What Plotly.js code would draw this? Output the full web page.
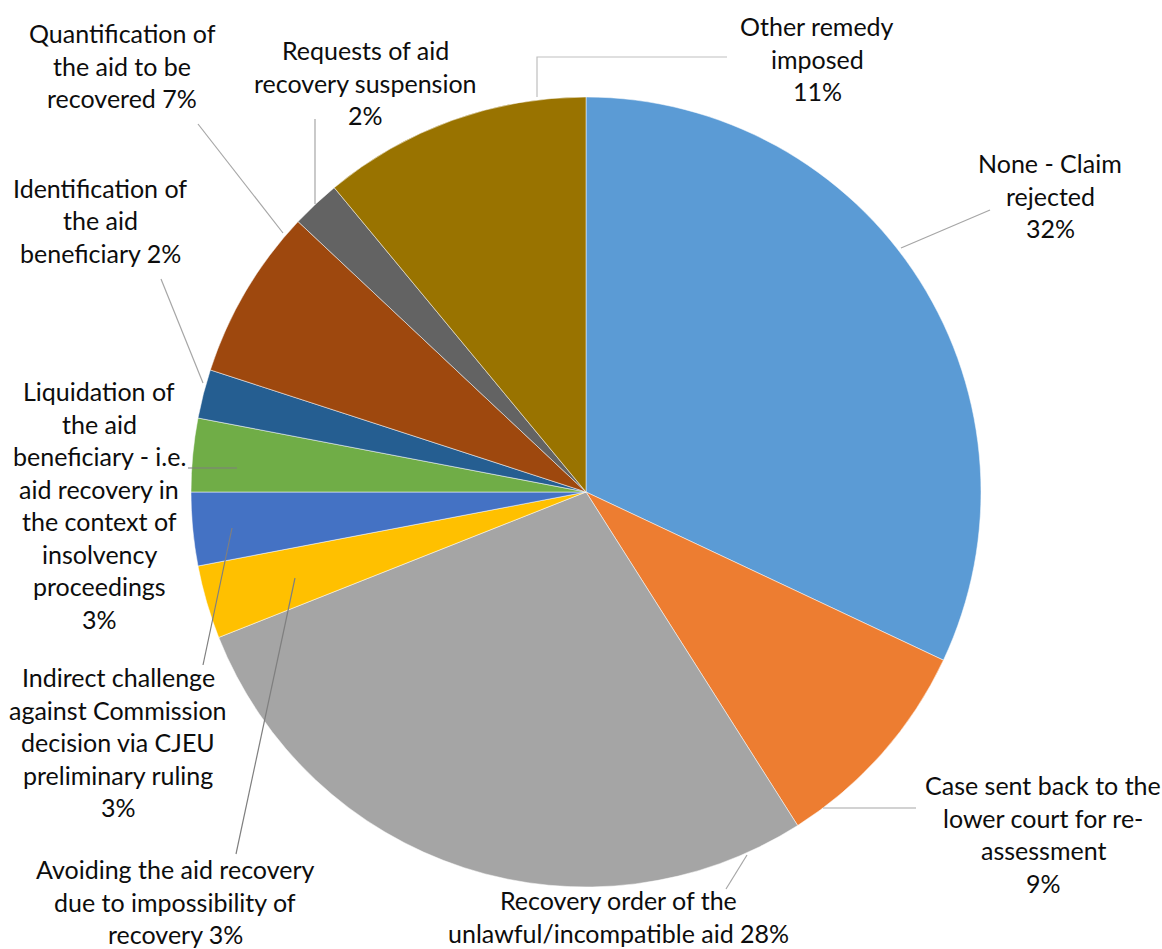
<!DOCTYPE html>
<html>
<head>
<meta charset="utf-8">
<script src="https://cdn.plot.ly/plotly-3.0.0.min.js"></script>
<style>html,body{margin:0;padding:0;background:#fff;}#chart{width:1162px;height:949px;}</style>
</head>
<body>
<div id="chart"></div>
<script>
// ---- data ----
const categories = [
  "None - Claim rejected",
  "Case sent back to the lower court for re-assessment",
  "Recovery order of the unlawful/incompatible aid",
  "Avoiding the aid recovery due to impossibility of recovery",
  "Indirect challenge against Commission decision via CJEU preliminary ruling",
  "Liquidation of the aid beneficiary - i.e. aid recovery in the context of insolvency proceedings",
  "Identification of the aid beneficiary",
  "Quantification of the aid to be recovered",
  "Requests of aid recovery suspension",
  "Other remedy imposed"
];
const shares = [32, 9, 28, 3, 3, 3, 2, 7, 2, 11];
const sliceColors = ["#5B9BD5", "#ED7D31", "#A5A5A5", "#FFC000", "#4472C4",
                     "#70AD47", "#255E91", "#9E480E", "#636363", "#997300"];

// wrapped label lines ("%" is replaced by the computed percentage)
const labelLines = [
  ["None - Claim", "rejected", "%"],
  ["Case sent back to the", "lower court for re-", "assessment", "%"],
  ["Recovery order of the", "unlawful/incompatible aid %"],
  ["Avoiding the aid recovery", "due to impossibility of", "recovery %"],
  ["Indirect challenge", "against Commission", "decision via CJEU", "preliminary ruling", "%"],
  ["Liquidation of", "the aid", "beneficiary - i.e.", "aid recovery in", "the context of", "insolvency", "proceedings", "%"],
  ["Identification of", "the aid", "beneficiary %"],
  ["Quantification of", "the aid to be", "recovered %"],
  ["Requests of aid", "recovery suspension", "%"],
  ["Other remedy", "imposed", "%"]
];

// ---- layout helpers (pixel -> paper) ----
const W = 1162, H = 949;
const px = x => x / W;
const py = y => 1 - y / H;

// label placement: [centre x, first line y] in pixels
const labelPos = [
  [1050, 163], [1043, 785], [618, 900], [175, 869], [118, 677],
  [99, 391], [100, 188], [122, 33], [365, 50], [817, 26]
];
const lineStep = 32.5;

// leader lines (pixel points)
const leaders = [
  {pts: [[901, 248], [990, 210]], c: "#A6A6A6"},
  {pts: [[823, 808], [916, 808]], c: "#A6A6A6"},
  {pts: [[747, 855], [726, 889]], c: "#A6A6A6"},
  {pts: [[295, 578], [236, 854]], c: "#7F7F7F"},
  {pts: [[232, 528], [203, 665]], c: "#7F7F7F"},
  {pts: [[188, 468], [237, 468]], c: "#7F7F7F"},
  {pts: [[161, 279], [203, 383]], c: "#A6A6A6"},
  {pts: [[198, 124], [283, 233]], c: "#A6A6A6"},
  {pts: [[315, 119], [315, 204]], c: "#A6A6A6"},
  {pts: [[537, 97], [537, 57], [727, 57]], c: "#BFBFBF"}
];

const total = shares.reduce((a, b) => a + b, 0);
const pct = shares.map(v => Math.round(v / total * 100) + "%");

const annotations = [];
labelLines.forEach((lines, i) => {
  lines.forEach((ln, j) => {
    annotations.push({
      xref: "paper", yref: "paper",
      x: px(labelPos[i][0]), y: py(labelPos[i][1] + j * lineStep),
      xanchor: "center", yanchor: "middle",
      text: ln.replace("%", pct[i]),
      showarrow: false,
      font: {family: "Lato, 'Open Sans', sans-serif", size: 25, color: "#0D0D0D"}
    });
  });
});

const shapes = leaders.map(l => ({
  type: "path", xref: "paper", yref: "paper",
  path: l.pts.map((p, k) => (k ? "L" : "M") + px(p[0]) + "," + py(p[1])).join(" "),
  line: {color: l.c, width: 1.2}
}));

const trace = {
  type: "pie",
  labels: categories,
  values: shares,
  sort: false,
  direction: "clockwise",
  rotation: 0,
  textinfo: "none",
  hoverinfo: "label+percent",
  marker: {colors: sliceColors, line: {color: "#FFFFFF", width: 0.5}},
  domain: {x: [px(191), px(981)], y: [py(887), py(97)]}
};

const layout = {
  width: W, height: H,
  margin: {l: 0, r: 0, t: 0, b: 0, pad: 0},
  paper_bgcolor: "#FFFFFF",
  showlegend: false,
  annotations: annotations,
  shapes: shapes
};

Plotly.newPlot("chart", [trace], layout, {displayModeBar: false, staticPlot: true});
</script>
</body>
</html>
